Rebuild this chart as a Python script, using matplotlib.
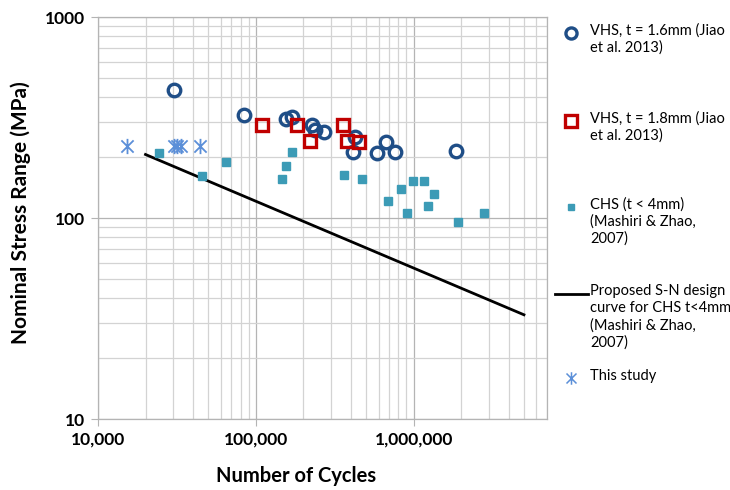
import matplotlib.pyplot as plt
from matplotlib.lines import Line2D
from matplotlib.path import Path
from matplotlib.ticker import FixedLocator, FuncFormatter, NullFormatter, LogLocator

plt.rcParams['font.family'] = ['Lato', 'DejaVu Sans']

# VHS, t = 1.6 mm (Jiao et al. 2013)
vhs16_n = [30300, 84400, 155000, 170600, 227000, 236000, 270000,
           424000, 413000, 589000, 665000, 766000, 1846000]
vhs16_s = [435, 324, 310, 319, 289, 275, 267, 252, 213, 211, 238, 213, 215]

# VHS, t = 1.8 mm (Jiao et al. 2013)
vhs18_n = [109600, 183600, 222000, 357000, 380000, 449000]
vhs18_s = [289, 290, 241, 289, 241, 239]

# CHS (t < 4mm), Mashiri & Zhao 2007
chs_n = [24200, 45500, 64500, 147500, 155000, 169000, 364000, 473000, 687000,
         831000, 908000, 986000, 1163000, 1232000, 1344000, 1906000, 2786000]
chs_s = [210, 161, 190, 156, 182, 212, 163, 156, 122,
         139, 106, 152, 152, 115, 131, 96, 106]

# proposed S-N design curve end points
curve_n = [20000, 5000000]
curve_s = [207, 33]

# this study
study_n = [15200, 30300, 31600, 33500, 44200]
study_s = [228, 228, 228, 228, 228]

DARK_BLUE = '#1F4E87'
RED = '#C00000'
TEAL = '#3C9BB6'
LIGHT_BLUE = '#5B8FD8'

# asterisk marker: vertical bar plus an X
asterisk = Path([(0, -1), (0, 1), (-0.8, -0.8), (0.8, 0.8), (-0.8, 0.8), (0.8, -0.8)],
                [Path.MOVETO, Path.LINETO, Path.MOVETO, Path.LINETO, Path.MOVETO, Path.LINETO])

fig = plt.figure(figsize=(7.3, 4.9), dpi=100)
ax = fig.add_axes([98 / 730, 1 - 419 / 490, 449 / 730, 402 / 490])

ax.plot(curve_n, curve_s, color='black', lw=2.0, zorder=3)
ax.plot(chs_n, chs_s, ls='none', marker='s', ms=5.5, color=TEAL, mec=TEAL, zorder=4)
ax.plot(vhs16_n, vhs16_s, ls='none', marker='o', ms=9, mfc='none', mec=DARK_BLUE, mew=2.4, zorder=5)
ax.plot(vhs18_n, vhs18_s, ls='none', marker='s', ms=9, mfc='none', mec=RED, mew=2.4, zorder=5)
ax.plot(study_n, study_s, ls='none', marker=asterisk, ms=11, mfc='none', mec=LIGHT_BLUE, mew=1.3, zorder=5)

ax.set_xscale('log')
ax.set_yscale('log')
ax.set_xlim(1e4, 7e6)
ax.set_ylim(10, 1000)

ax.xaxis.set_major_locator(FixedLocator([1e4, 1e5, 1e6]))
ax.xaxis.set_minor_locator(LogLocator(base=10, subs=range(2, 10)))
ax.xaxis.set_major_formatter(FuncFormatter(lambda v, p: f'{int(v):,}'))
ax.xaxis.set_minor_formatter(NullFormatter())
ax.yaxis.set_major_locator(FixedLocator([10, 100, 1000]))
ax.yaxis.set_minor_locator(LogLocator(base=10, subs=range(2, 10)))
ax.yaxis.set_major_formatter(FuncFormatter(lambda v, p: f'{int(v)}'))
ax.yaxis.set_minor_formatter(NullFormatter())

ax.grid(True, which='major', color='#B4B4B4', lw=0.9)
ax.grid(True, which='minor', color='#D3D3D3', lw=0.9)
ax.set_axisbelow(True)
for side in ax.spines.values():
    side.set_color('#B4B4B4')
    side.set_linewidth(0.9)
ax.tick_params(which='major', length=5, color='#B4B4B4', labelsize=12.5, pad=4)
ax.tick_params(which='minor', length=0)
for lbl in ax.get_xticklabels() + ax.get_yticklabels():
    lbl.set_fontweight('bold')

fig.text(296 / 730, 1 - 476 / 490, 'Number of Cycles', ha='center', va='center',
         fontsize=14.5, fontweight='bold')
fig.text(21 / 730, 1 - 213 / 490, 'Nominal Stress Range (MPa)', ha='center', va='center',
         rotation=90, fontsize=15, fontweight='bold')

# legend, drawn entry by entry with the marker beside the first text line
def fx(px):
    return px / 730

def fy(py):
    return 1 - py / 490

entries = [
    (33, dict(marker='o', ms=8, mfc='none', mec=DARK_BLUE, mew=2.4),
     'VHS, t = 1.6mm (Jiao\net al. 2013)'),
    (121, dict(marker='s', ms=8, mfc='none', mec=RED, mew=2.4),
     'VHS, t = 1.8mm (Jiao\net al. 2013)'),
    (207, dict(marker='s', ms=5, mfc=TEAL, mec=TEAL),
     'CHS (t < 4mm)\n(Mashiri & Zhao,\n2007)'),
    (294, None,
     'Proposed S-N design\ncurve for CHS t<4mm\n(Mashiri & Zhao,\n2007)'),
    (378, dict(marker=asterisk, ms=9, mfc='none', mec=LIGHT_BLUE, mew=1.1),
     'This study'),
]
for py, style, label in entries:
    if style is None:
        fig.add_artist(Line2D([fx(555), fx(588)], [fy(py), fy(py)], color='black', lw=2.0))
    else:
        fig.add_artist(Line2D([fx(571)], [fy(py)], ls='none', **style))
    fig.text(fx(590), fy(py - 9.5), label, ha='left', va='top', fontsize=10.5,
             linespacing=1.25)

fig.savefig('out.png', dpi=100)
